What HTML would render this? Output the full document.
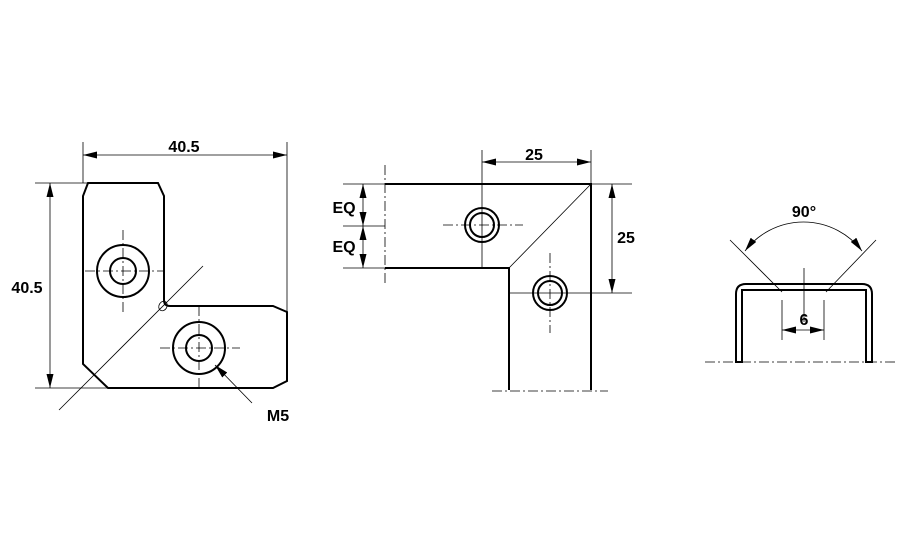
<!DOCTYPE html>
<html><head><meta charset="utf-8"><style>
html,body{margin:0;padding:0;background:#fff;}
svg{display:block;}
text{font-family:"Liberation Sans",Arial,sans-serif;font-weight:bold;font-size:16px;fill:#000;}
</style></head><body>
<svg width="906" height="556" viewBox="0 0 906 556" xmlns="http://www.w3.org/2000/svg">
<defs>
<marker id="a" viewBox="0 0 14 7" refX="14" refY="3.5" markerWidth="14" markerHeight="7" orient="auto-start-reverse" markerUnits="userSpaceOnUse">
<path d="M0,0 L14,3.5 L0,7 Z" fill="#000"/></marker>
</defs>
<g fill="none" stroke="#000">
<!-- View 1 -->
<path stroke-width="2" d="M88,183 L158,183 L164,196 L164,300 Q164,306 170,306 L273,306 L287,312 L287,381 L273,388 L108,388 L83,364 L83,196 Z"/>
<g stroke-width="0.8">
<line x1="83" y1="142" x2="83" y2="183"/>
<line x1="287" y1="142" x2="287" y2="312"/>
<line x1="83" y1="155" x2="287" y2="155" marker-start="url(#a)" marker-end="url(#a)"/>
<line x1="35" y1="183" x2="88" y2="183"/>
<line x1="35" y1="388" x2="108" y2="388"/>
<line x1="50" y1="183" x2="50" y2="388" marker-start="url(#a)" marker-end="url(#a)"/>
<line x1="59" y1="410" x2="203" y2="266"/>
<ellipse cx="163" cy="306" rx="4" ry="5" transform="rotate(30 163 306)"/>
<line x1="252" y1="403" x2="215" y2="365" marker-end="url(#a)"/>
</g>
<g stroke-width="2">
<circle cx="123" cy="271" r="26"/><circle cx="123" cy="271" r="13"/>
<circle cx="199" cy="348" r="26"/><circle cx="199" cy="348" r="13"/>
</g>
<g stroke-width="0.8" stroke-dasharray="10,3,2,3">
<line x1="85" y1="271" x2="163" y2="271"/><line x1="123" y1="230" x2="123" y2="313"/>
<line x1="160" y1="348" x2="240" y2="348"/><line x1="199" y1="306" x2="199" y2="388"/>
</g>
<!-- View 2 -->
<path stroke-width="2" d="M385,184 L591,184 L591,390 M509,390 L509,268 L385,268"/>
<g stroke-width="0.8">
<line x1="591" y1="184" x2="509" y2="268"/>
<line x1="482" y1="150" x2="482" y2="268"/>
<line x1="591" y1="150" x2="591" y2="184"/>
<line x1="482" y1="162" x2="591" y2="162" marker-start="url(#a)" marker-end="url(#a)"/>
<line x1="591" y1="184" x2="632" y2="184"/>
<line x1="509" y1="293" x2="632" y2="293"/>
<line x1="612" y1="184" x2="612" y2="293" marker-start="url(#a)" marker-end="url(#a)"/>
<line x1="343" y1="184" x2="385" y2="184"/>
<line x1="343" y1="226" x2="385" y2="226"/>
<line x1="343" y1="268" x2="385" y2="268"/>
<line x1="363" y1="184" x2="363" y2="226" marker-start="url(#a)" marker-end="url(#a)"/>
<line x1="363" y1="226" x2="363" y2="268" marker-start="url(#a)" marker-end="url(#a)"/>
</g>
<g stroke-width="2">
<circle cx="482" cy="225" r="17"/><circle cx="482" cy="225" r="12"/>
<circle cx="550" cy="293" r="17"/><circle cx="550" cy="293" r="12"/>
</g>
<g stroke-width="0.8" stroke-dasharray="10,3,2,3">
<line x1="443" y1="225" x2="523" y2="225"/>
<line x1="550" y1="253" x2="550" y2="333"/>
<line x1="385" y1="165" x2="385" y2="285"/>
<line x1="492" y1="391" x2="608" y2="391"/>
</g>
<!-- View 3 -->
<path stroke-width="2" d="M736,362 L736,294 Q736,284 746,284 L862,284 Q872,284 872,294 L872,362 L866,362 L866,290 L742,290 L742,362 Z"/>
<g stroke-width="0.8">
<line x1="730" y1="240" x2="782" y2="292"/>
<line x1="876" y1="240" x2="826" y2="292"/>
<path d="M745,251 A73.5,73.5 0 0 1 862,251" marker-start="url(#a)" marker-end="url(#a)"/>
<line x1="804" y1="268" x2="804" y2="322"/>
<line x1="782" y1="300" x2="782" y2="340"/>
<line x1="824" y1="300" x2="824" y2="340"/>
<line x1="782" y1="330" x2="824" y2="330" marker-start="url(#a)" marker-end="url(#a)"/>
</g>
<line stroke-width="0.8" stroke-dasharray="10,3,2,3" x1="705" y1="362" x2="895" y2="362"/>
</g>
<text x="184" y="152" text-anchor="middle">40.5</text>
<text x="27" y="293" text-anchor="middle">40.5</text>
<text x="278" y="421" text-anchor="middle">M5</text>
<text x="534" y="160" text-anchor="middle">25</text>
<text x="626" y="243" text-anchor="middle">25</text>
<text x="344" y="213" text-anchor="middle">EQ</text>
<text x="344" y="252" text-anchor="middle">EQ</text>
<text x="804" y="217" text-anchor="middle">90°</text>
<text x="804" y="325" text-anchor="middle">6</text>
</svg>
</body></html>
